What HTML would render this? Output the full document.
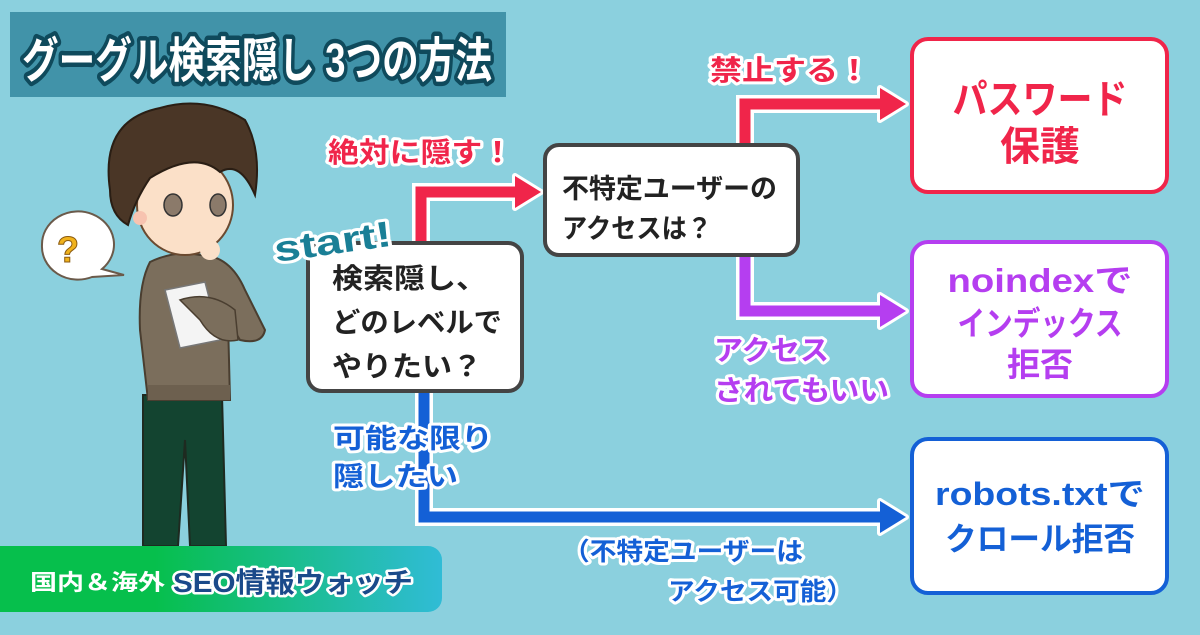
<!DOCTYPE html>
<html><head><meta charset="utf-8"><style>
html,body{margin:0;padding:0;}
body{width:1200px;height:630px;overflow:hidden;background:#8bd0de;}
svg text{font-family:"Liberation Sans","Noto Sans CJK JP",sans-serif;font-weight:bold;}
.o{paint-order:stroke;stroke:#fff;stroke-width:6px;stroke-linejoin:round;}
</style></head><body>
<svg width="1200" height="630" viewBox="0 0 1200 630" xmlns="http://www.w3.org/2000/svg">
<rect width="1200" height="630" fill="#8bd0de"/>
<!-- title -->
<rect x="10" y="12" width="496" height="85" fill="#4193a9"/>
<text x="22" y="77" font-size="48" textLength="470" lengthAdjust="spacingAndGlyphs" fill="#fff" stroke="#0f4a5c" stroke-width="9" paint-order="stroke" stroke-linejoin="round">グーグル検索隠し 3つの方法</text>

<!-- connectors: white outlines -->
<g fill="none" stroke="#fff" stroke-width="18" stroke-linejoin="miter">
<path d="M421 250 V192 H520"/><path d="M745 150 V104 H885"/><path d="M745 255 V311 H885"/><path d="M424 390 V517 H885"/>
</g>
<g fill="#fff" stroke="#fff" stroke-width="6" stroke-linejoin="round">
<polygon points="515,176 541,192 515,208"/><polygon points="880,88 906,104 880,120"/><polygon points="880,295 906,311 880,327"/><polygon points="880,501 906,517 880,533"/>
</g>
<g fill="none" stroke-width="11">
<path d="M421 250 V192 H520" stroke="#f0254a"/>
<path d="M745 150 V104 H885" stroke="#f0254a"/>
<path d="M745 255 V311 H885" stroke="#b53ef0"/>
<path d="M424 390 V517 H885" stroke="#1460d6"/>
</g>
<polygon points="515,176 541,192 515,208" fill="#f0254a"/>
<polygon points="880,88 906,104 880,120" fill="#f0254a"/>
<polygon points="880,295 906,311 880,327" fill="#b53ef0"/>
<polygon points="880,501 906,517 880,533" fill="#1460d6"/>

<!-- boxes -->
<rect x="308" y="243" width="214" height="148" rx="14" fill="#fff" stroke="#444" stroke-width="4"/>
<rect x="545" y="145" width="253" height="110" rx="14" fill="#fff" stroke="#444" stroke-width="4"/>
<rect x="912" y="39" width="255" height="153" rx="16" fill="#fff" stroke="#f0254a" stroke-width="4"/>
<rect x="912" y="242" width="255" height="154" rx="16" fill="#fff" stroke="#b53ef0" stroke-width="4"/>
<rect x="912" y="439" width="255" height="154" rx="16" fill="#fff" stroke="#1460d6" stroke-width="4"/>

<g font-size="28" fill="#222">
<text x="332" y="288" textLength="155" lengthAdjust="spacingAndGlyphs">検索隠し、</text>
<text x="332" y="332" textLength="170" lengthAdjust="spacingAndGlyphs">どのレベルで</text>
<text x="332" y="376" textLength="150" lengthAdjust="spacingAndGlyphs">やりたい？</text>
<text x="562" y="198" font-size="27" textLength="215" lengthAdjust="spacingAndGlyphs">不特定ユーザーの</text>
<text x="562" y="238" font-size="27" textLength="150" lengthAdjust="spacingAndGlyphs">アクセスは？</text>
</g>
<g text-anchor="middle">
<text x="1040" y="113" font-size="40" fill="#f0254a" textLength="175" lengthAdjust="spacingAndGlyphs">パスワード</text>
<text x="1040" y="160" font-size="40" fill="#f0254a">保護</text>
<text x="1040" y="292" fill="#b53ef0" font-size="33" textLength="185" lengthAdjust="spacingAndGlyphs">noindexで</text>
<text x="1040" y="335" fill="#b53ef0" font-size="33" textLength="165" lengthAdjust="spacingAndGlyphs">インデックス</text>
<text x="1040" y="376" fill="#b53ef0" font-size="33">拒否</text>
<text x="1040" y="505" fill="#1460d6" font-size="32" textLength="210" lengthAdjust="spacingAndGlyphs">robots.txtで</text>
<text x="1040" y="550" fill="#1460d6" font-size="32" textLength="190" lengthAdjust="spacingAndGlyphs">クロール拒否</text>
</g>

<!-- labels -->
<g font-size="28" class="o">
<text x="710" y="80" fill="#f0254a" textLength="160" lengthAdjust="spacingAndGlyphs">禁止する！</text>
<text x="328" y="162" fill="#f0254a" textLength="185" lengthAdjust="spacingAndGlyphs">絶対に隠す！</text>
<text x="714" y="360" fill="#b53ef0" textLength="115" lengthAdjust="spacingAndGlyphs">アクセス</text>
<text x="714" y="400" fill="#b53ef0" textLength="175" lengthAdjust="spacingAndGlyphs">されてもいい</text>
<text x="333" y="448" fill="#1460d6" font-size="27" textLength="160" lengthAdjust="spacingAndGlyphs">可能な限り</text>
<text x="333" y="486" fill="#1460d6" font-size="27" textLength="125" lengthAdjust="spacingAndGlyphs">隠したい</text>
<text x="563" y="560" fill="#1460d6" font-size="25" textLength="240" lengthAdjust="spacingAndGlyphs">（不特定ユーザーは</text>
<text x="668" y="600" fill="#1460d6" font-size="25" textLength="185" lengthAdjust="spacingAndGlyphs">アクセス可能）</text>
</g>
<text x="276" y="262" font-size="36" fill="#1a7f96" class="o" stroke-width="7" transform="rotate(-8 276 262)" textLength="118" lengthAdjust="spacingAndGlyphs">start!</text>

<!-- character -->
<g>
<path d="M42 245 a36 33 0 1 1 60 24 l22 6 l-32 2 a36 33 0 0 1 -50 -32z" fill="#fff" stroke="#6b5a4a" stroke-width="2"/>
<text x="57" y="262" font-size="36" fill="#f0b21c" stroke="#8a5a10" stroke-width="1">?</text>
<path d="M143 395 L222 395 L226 546 L190 546 L185 440 L178 546 L143 546 Z" fill="#134430" stroke="#1e2a20" stroke-width="2"/>
<path d="M150 262 Q175 250 200 255 Q230 255 245 290 L265 330 Q262 345 240 340 L228 320 L230 400 L148 400 L140 330 Q138 285 150 262Z" fill="#7b6e5c" stroke="#4a3e30" stroke-width="2"/>
<rect x="148" y="385" width="82" height="15" fill="#6d604f"/>
<polygon points="165,290 205,282 220,340 180,348" fill="#f4f4f4" stroke="#777" stroke-width="1.5"/>
<path d="M180 300 Q210 290 235 310 L238 340 Q215 345 200 320 Z" fill="#7b6e5c" stroke="#4a3e30" stroke-width="1.5"/>
<ellipse cx="185" cy="205" rx="48" ry="50" fill="#fbe0c8" stroke="#6b4a30" stroke-width="2"/>
<circle cx="210" cy="250" r="10" fill="#fbe0c8"/>
<path d="M110 190 Q100 120 160 108 Q205 95 245 120 Q262 150 255 195 Q240 160 220 172 Q195 150 150 178 Q135 200 128 225 Q110 215 110 190Z" fill="#4a3626" stroke="#2a1e14" stroke-width="2"/>
<ellipse cx="173" cy="205" rx="9" ry="11" fill="#8b7a6a" stroke="#333" stroke-width="1.5"/>
<ellipse cx="218" cy="205" rx="8" ry="11" fill="#8b7a6a" stroke="#333" stroke-width="1.5"/>
<circle cx="140" cy="218" r="7" fill="#f7c3b0"/>
</g>

<!-- footer banner -->
<defs><linearGradient id="g" x1="0" x2="1"><stop offset="0.35" stop-color="#06bf4c"/><stop offset="1" stop-color="#30bcd6"/></linearGradient></defs>
<path d="M0 546 H428 a14 14 0 0 1 14 14 V598 a14 14 0 0 1 -14 14 H0Z" fill="url(#g)"/>
<text x="30" y="590" font-size="22" fill="#fff" textLength="135" lengthAdjust="spacingAndGlyphs">国内＆海外</text>
<text x="173" y="592" font-size="28" fill="#1a4a8a" stroke="#fff" stroke-width="5" paint-order="stroke" stroke-linejoin="round" textLength="240" lengthAdjust="spacingAndGlyphs">SEO情報ウォッチ</text>
</svg>
</body></html>
